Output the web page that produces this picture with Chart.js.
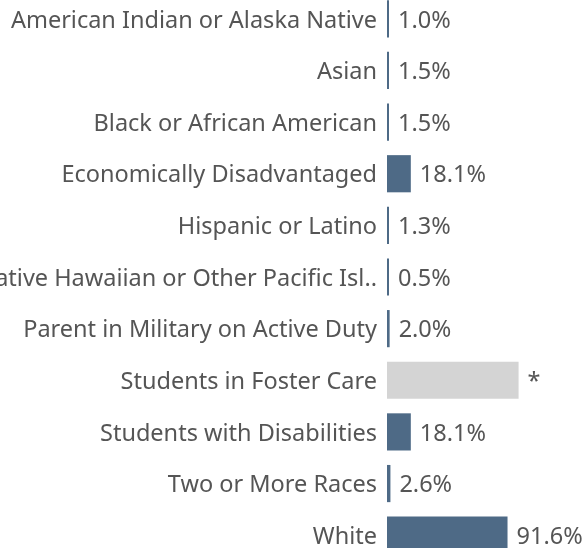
<!DOCTYPE html>
<html>
<head>
<meta charset="utf-8">
<script src="https://cdn.jsdelivr.net/npm/chart.js@4"></script>
<style>
html,body{margin:0;padding:0;background:#fff;overflow:hidden;width:587px;height:548px;}
#c{position:absolute;left:0;top:-7px;}
</style>
</head>
<body>
<canvas id="c" width="587" height="568"></canvas>
<script>
const categories = [
  "American Indian or Alaska Native",
  "Asian",
  "Black or African American",
  "Economically Disadvantaged",
  "Hispanic or Latino",
  "Native Hawaiian or Other Pacific Isl..",
  "Parent in Military on Active Duty",
  "Students in Foster Care",
  "Students with Disabilities",
  "Two or More Races",
  "White"
];
const values = [1.0, 1.5, 1.5, 18.1, 1.3, 0.5, 2.0, 100, 18.1, 2.6, 91.6];
const valueLabels = ["1.0%","1.5%","1.5%","18.1%","1.3%","0.5%","2.0%","*","18.1%","2.6%","91.6%"];
const suppressed = [false,false,false,false,false,false,false,true,false,false,false];

const FONT = "'Noto Sans', sans-serif";
const FONT_SIZE = 23.5;
const TEXT = "#555555";

const valueLabelPlugin = {
  id: 'valueLabels',
  afterDatasetsDraw(chart) {
    const ctx = chart.ctx;
    const meta = chart.getDatasetMeta(0);
    ctx.save();
    ctx.font = FONT_SIZE + "px " + FONT;
    ctx.fillStyle = TEXT;
    ctx.textAlign = 'left';
    ctx.textBaseline = 'middle';
    meta.data.forEach((bar, i) => {
      const x = Math.max(bar.x, bar.base + 2) + 9;
      ctx.fillText(valueLabels[i], x, bar.y + 2);
    });
    ctx.restore();
  }
};

new Chart(document.getElementById('c'), {
  type: 'bar',
  data: {
    labels: categories,
    datasets: [{
      data: values,
      backgroundColor: suppressed.map(s => s ? '#d4d4d4' : '#4e6a86'),
      borderWidth: 0,
      minBarLength: 2,
      categoryPercentage: 1,
      barPercentage: 0.72
    }]
  },
  options: {
    indexAxis: 'y',
    responsive: false,
    animation: false,
    layout: { padding: 0 },
    plugins: { legend: { display: false }, tooltip: { enabled: false } },
    scales: {
      x: {
        min: 0, max: 152,
        display: false
      },
      y: {
        grid: { display: false, drawTicks: false },
        border: { display: false },
        ticks: {
          font: { family: FONT, size: FONT_SIZE },
          color: TEXT,
          padding: 10,
          labelOffset: 2,
          autoSkip: false
        },
        afterFit(scale) {
          scale.width = 387;
          scale.paddingTop = 0;
          scale.paddingBottom = 0;
        }
      }
    }
  },
  plugins: [valueLabelPlugin]
});
</script>
</body>
</html>
